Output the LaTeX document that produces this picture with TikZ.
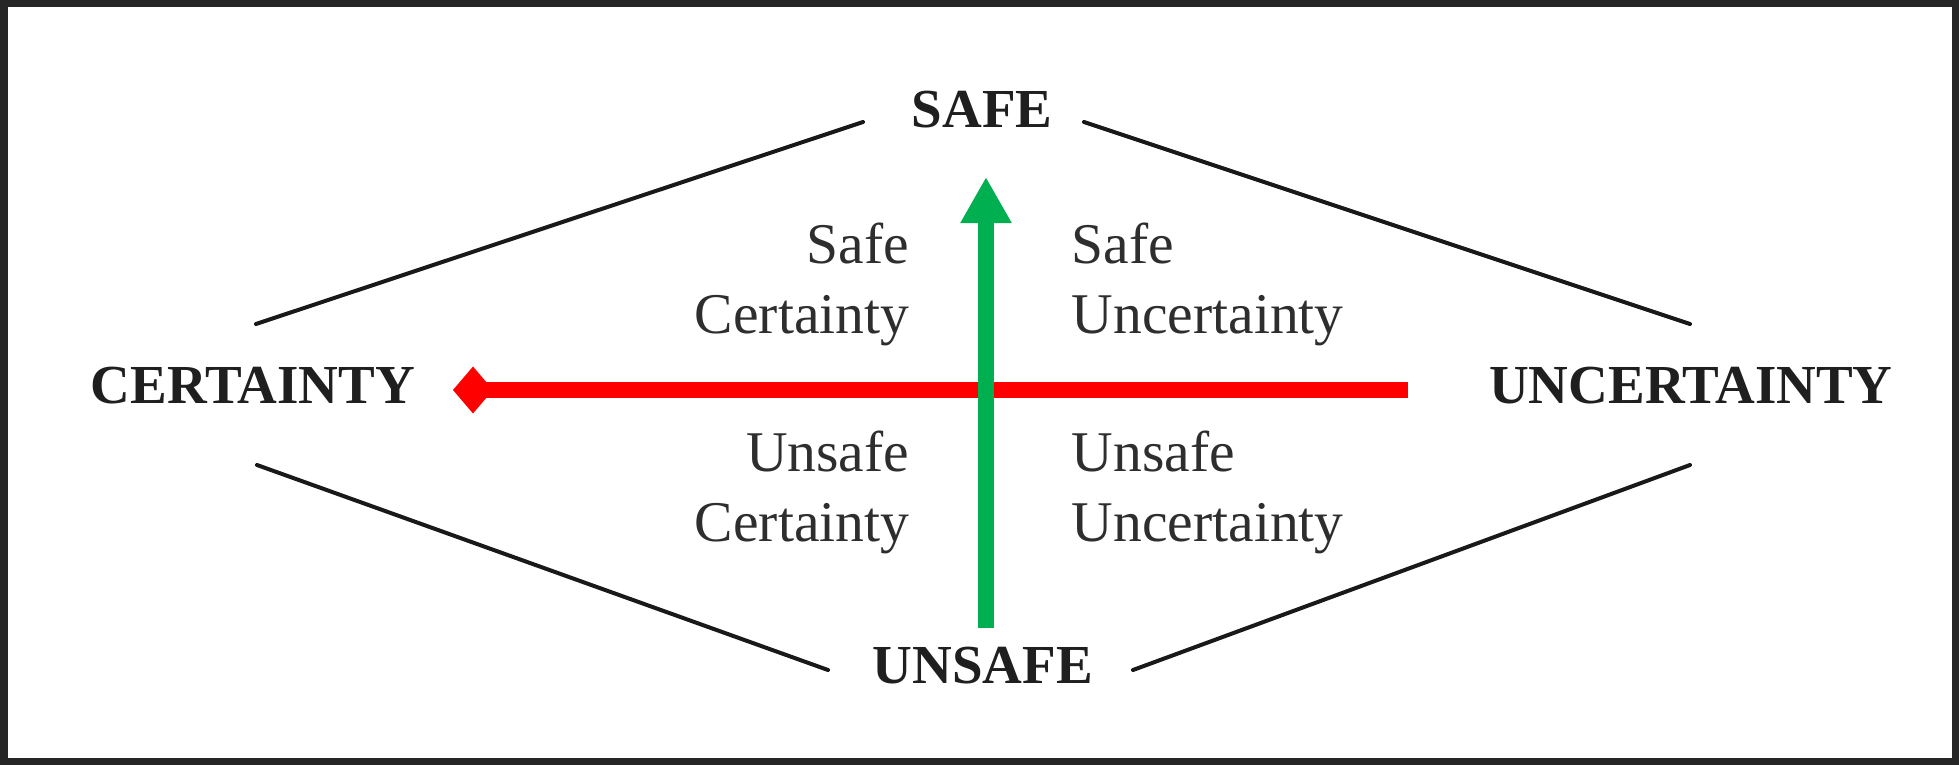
\documentclass[tikz,border=0pt]{standalone}
\usepackage{fontspec}
\setmainfont{Liberation Serif}
\usetikzlibrary{arrows.meta}

\begin{document}
\begin{tikzpicture}
            [x=0.5pt,y=-0.5pt,thick,
             pole/.style={font=\fontsize{27.5}{33}\selectfont\bfseries,text=black!88,inner sep=0pt},
             quad/.style={font=\fontsize{28.8}{35}\selectfont,text=black!82,inner sep=0pt},
             edge/.style={line width=2pt,black!90,line cap=round}]
            \useasboundingbox (0,0) rectangle (1959,765);
            \draw[line width=3.5pt, black!85] (4,4) rectangle (1955,761);
            % the four poles
            \node[pole,anchor=base] (safe) at (982,127) {SAFE};
            \node[pole,anchor=base] (unsafe) at (983,683) {UNSAFE};
            \node[pole,anchor=base] (cert) at (253,403) {CERTAINTY};
            \node[pole,anchor=base] (uncert) at (1691,403) {UNCERTAINTY};
            % the four quadrants (base = last line)
            \node[quad,anchor=base east,align=right] (sc) at (910,333) {Safe\\Certainty};
            \node[quad,anchor=base west,align=left] (su) at (1071,333) {Safe\\Uncertainty};
            \node[quad,anchor=base east,align=right] (uc) at (910,541) {Unsafe\\Certainty};
            \node[quad,anchor=base west,align=left] (uu) at (1071,541) {Unsafe\\Uncertainty};
            % ends of the diamond edges
            \coordinate (a1) at (863,122);
            \coordinate (a2) at (256,324);
            \coordinate (b1) at (1084,122);
            \coordinate (b2) at (1690,324);
            \coordinate (c1) at (257,465);
            \coordinate (c2) at (828,670);
            \coordinate (d1) at (1133,670);
            \coordinate (d2) at (1690,465);
            \draw[edge] (a1) -- (a2);
            \draw[edge] (b1) -- (b2);
            \draw[edge] (c1) -- (c2);
            \draw[edge] (d1) -- (d2);
            % the two axes
            \coordinate (gstart) at (986,628);
            \coordinate (gend) at (986,177);
            \coordinate (rstart) at (1408,390);
            \coordinate (rend) at (453,390);
            \draw[line width=8pt, red, -{Diamond[width=23.5pt,length=20pt]}] (rstart) -- (rend);
            \draw[line width=8pt, color={rgb,255:red,0;green,176;blue,80}, -{Triangle[width=24pt,length=23pt]}] (gstart) -- (gend);
        \end{tikzpicture}
\end{document}
